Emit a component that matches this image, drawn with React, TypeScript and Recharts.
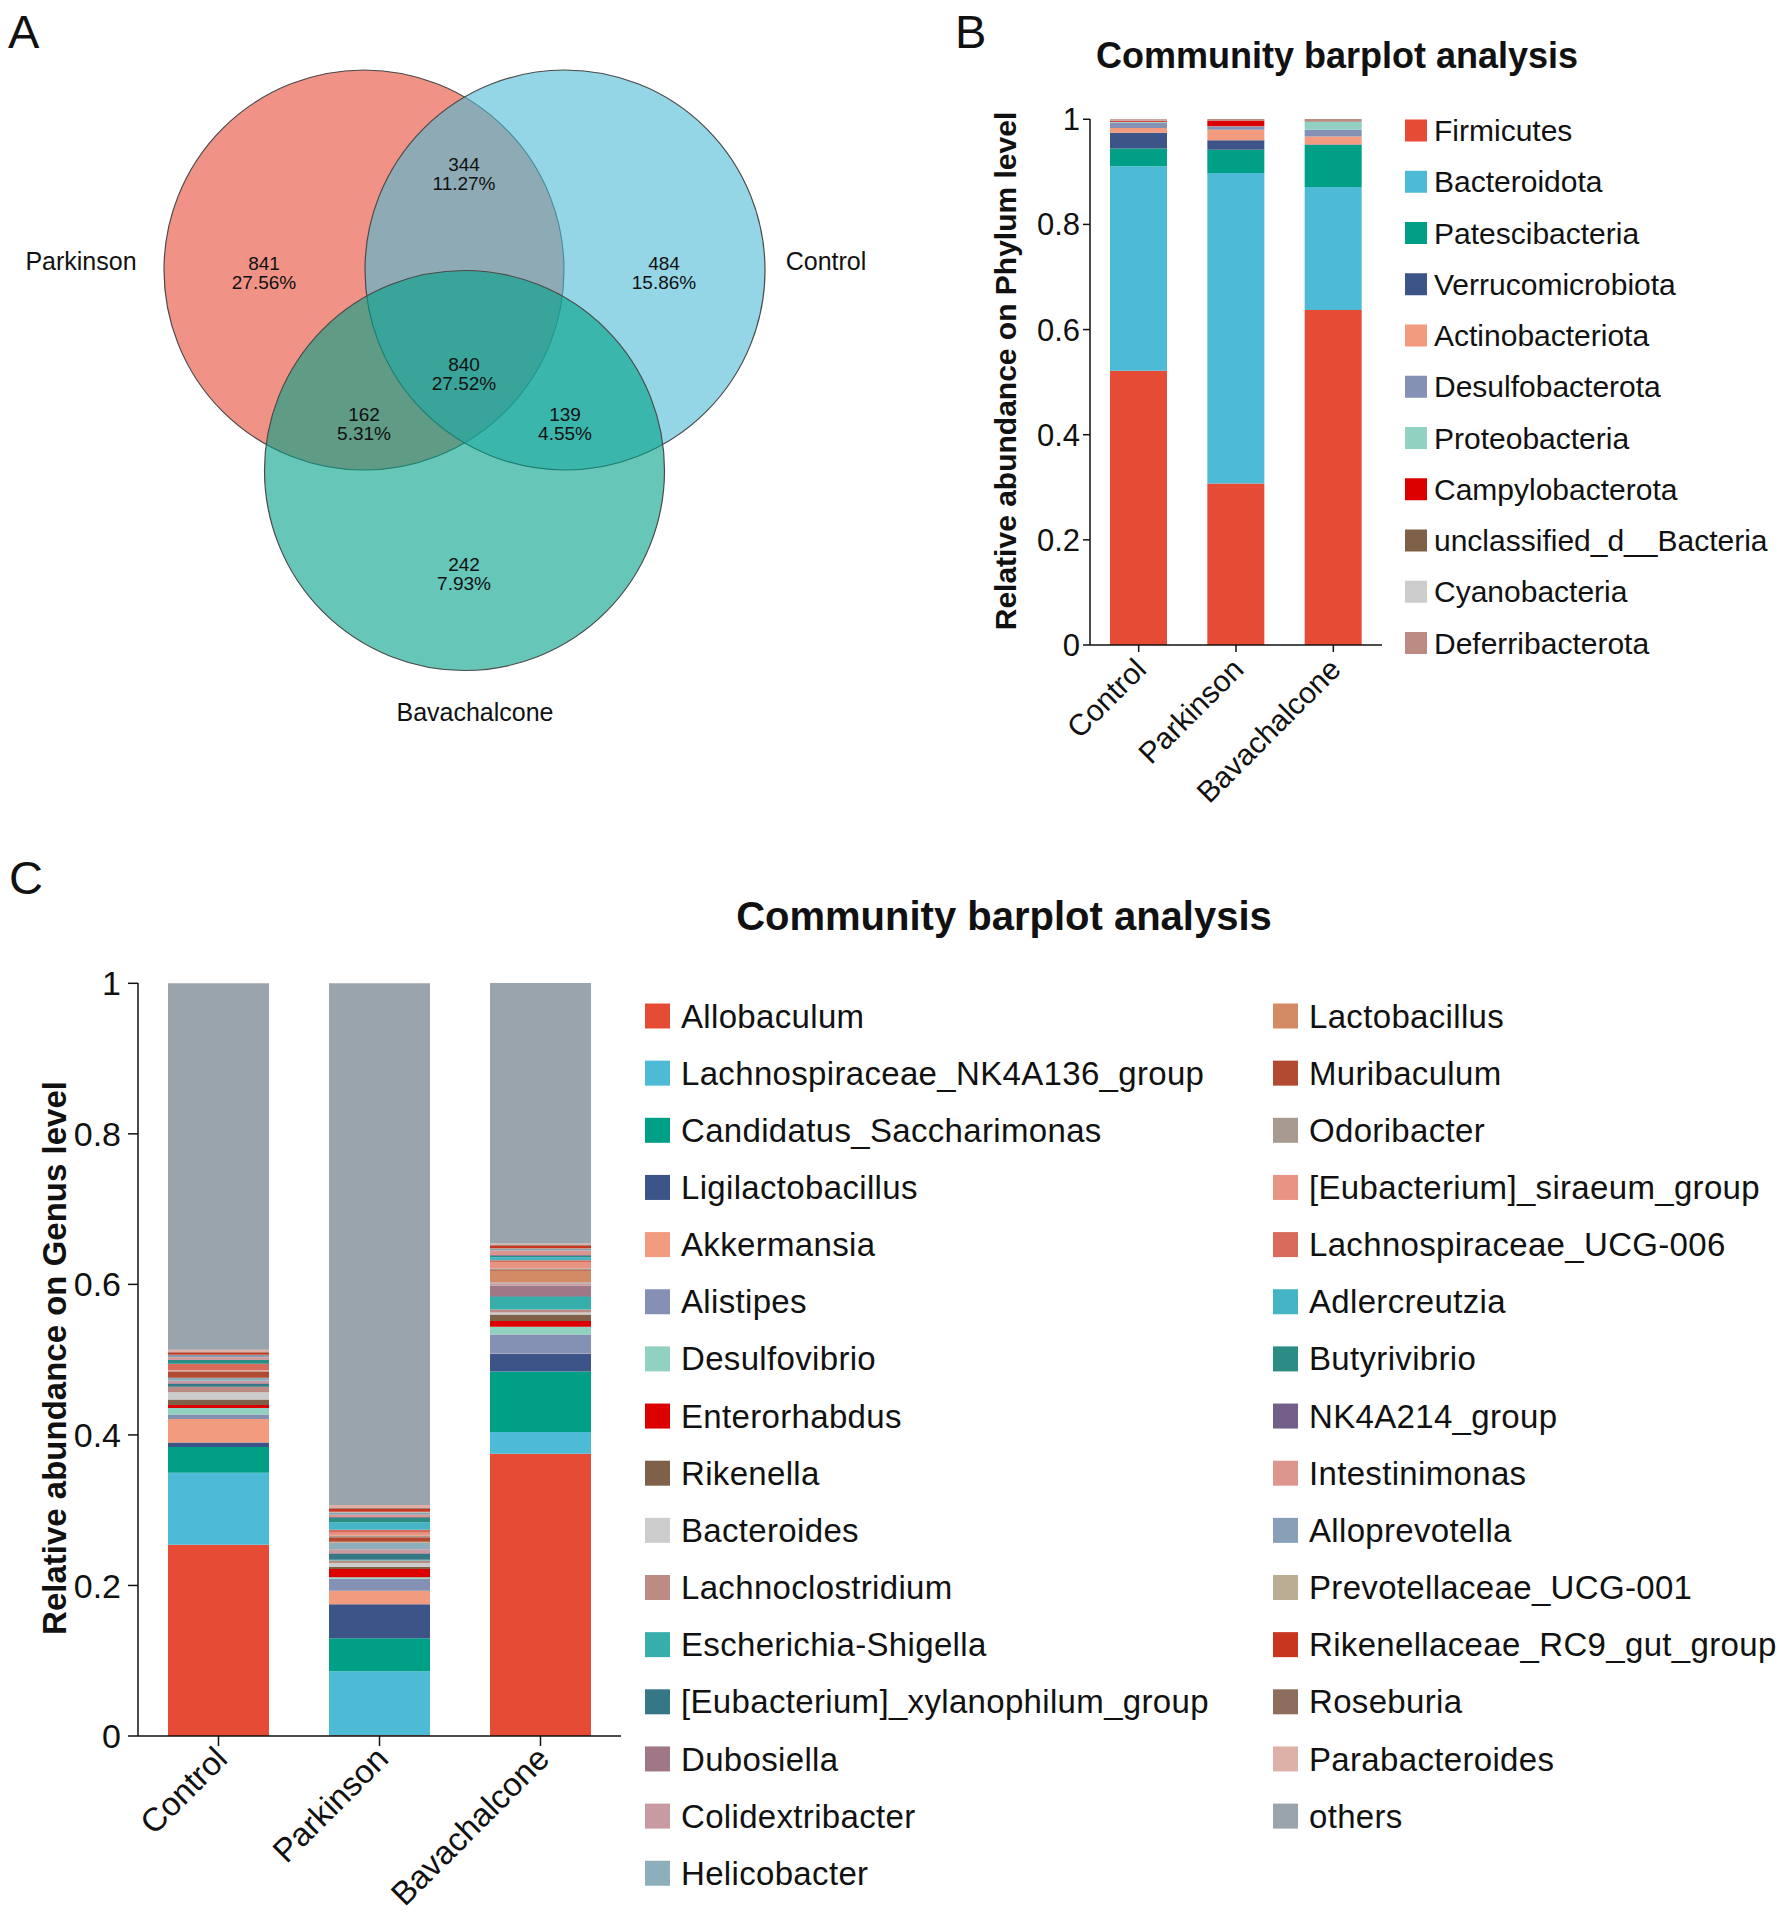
import React from 'react';
import { BarChart, Bar, XAxis, YAxis, ScatterChart, Scatter } from 'recharts';

const FONT = '"Liberation Sans", Arial, Helvetica, sans-serif';

// ---------------- Panel A : Venn ----------------
const vennSetNames = ['Parkinson', 'Control', 'Bavachalcone'];
const vennSetColors = ['#E64B35', '#4DBBD5', '#00A087'];
const vennCenterX = [364, 565, 464.5];
const vennCenterY = [270, 270, 470.5];
const vennRadius = [200, 200, 200];
const vennSetLabelX = [81, 826, 475];
const vennSetLabelY = [261.5, 261.5, 712];

const vennRegionCounts = [841, 344, 484, 840, 162, 139, 242];
const vennRegionPercents = ['27.56%', '11.27%', '15.86%', '27.52%', '5.31%', '4.55%', '7.93%'];
const vennRegionX = [264, 464, 664, 464, 364, 565, 464];
const vennRegionY = [273, 174, 273, 374, 424, 424, 574];

// ---------------- Shared ----------------
const samples = ['Control', 'Parkinson', 'Bavachalcone'];
const abundanceTicks = [0, 0.2, 0.4, 0.6, 0.8, 1];

// ---------------- Panel B : Phylum ----------------
const phylumNames = [
  'Firmicutes', 'Bacteroidota', 'Patescibacteria', 'Verrucomicrobiota', 'Actinobacteriota',
  'Desulfobacterota', 'Proteobacteria', 'Campylobacterota', 'unclassified_d__Bacteria',
  'Cyanobacteria', 'Deferribacterota',
];
const phylumColors = [
  '#E64B35', '#4DBBD5', '#00A087', '#3C5488', '#F39B7F',
  '#8491B4', '#91D1C2', '#DC0000', '#7E6148', '#CCCCCC', '#BC8B83',
];
const phylumControl = [0.5215, 0.389, 0.034, 0.030, 0.009, 0.010, 0.002, 0.001, 0.0005, 0.0005, 0.0025];
const phylumParkinson = [0.307, 0.591, 0.044, 0.018, 0.020, 0.006, 0.0005, 0.011, 0.0005, 0.0005, 0.002];
const phylumBavachalcone = [0.637, 0.234, 0.080, 0.001, 0.015, 0.013, 0.015, 0.0005, 0.0005, 0.0005, 0.004];

// ---------------- Panel C : Genus ----------------
const genusNames = [
  'Allobaculum', 'Lachnospiraceae_NK4A136_group', 'Candidatus_Saccharimonas', 'Ligilactobacillus',
  'Akkermansia', 'Alistipes', 'Desulfovibrio', 'Enterorhabdus', 'Rikenella', 'Bacteroides',
  'Lachnoclostridium', 'Escherichia-Shigella', '[Eubacterium]_xylanophilum_group', 'Dubosiella',
  'Colidextribacter', 'Helicobacter', 'Lactobacillus', 'Muribaculum', 'Odoribacter',
  '[Eubacterium]_siraeum_group', 'Lachnospiraceae_UCG-006', 'Adlercreutzia', 'Butyrivibrio',
  'NK4A214_group', 'Intestinimonas', 'Alloprevotella', 'Prevotellaceae_UCG-001',
  'Rikenellaceae_RC9_gut_group', 'Roseburia', 'Parabacteroides', 'others',
];
const genusColors = [
  '#E64B35', '#4DBBD5', '#00A087', '#3C5488', '#F39B7F', '#8491B4', '#91D1C2', '#DC0000',
  '#7E6148', '#CCCCCC', '#BC8B83', '#36AFAC', '#357785', '#A07787', '#C79BA1', '#8DAEBB',
  '#D38B65', '#B14A31', '#A89A8E', '#E99483', '#D96B5C', '#45B5C5', '#2A8C83', '#725E86',
  '#DD968D', '#87A0B8', '#BAAD93', '#C8361F', '#8D6E5E', '#DEB1A8', '#9AA4AC',
];
const genusControl = [
  0.254, 0.0956, 0.0345, 0.0058, 0.0314, 0.0058, 0.0088, 0.004, 0.007, 0.0097,
  0.007, 0.0005, 0.004, 0.001, 0.003, 0.0035, 0.0005, 0.008, 0.001, 0.001,
  0.008, 0.0005, 0.005, 0.0005, 0.003, 0.003, 0.0005, 0.003, 0.0005, 0.003, 0.487,
];
const genusParkinson = [
  0.001, 0.085, 0.044, 0.045, 0.018, 0.016, 0.002, 0.011, 0.003, 0.005,
  0.003, 0.001, 0.008, 0.001, 0.005, 0.009, 0.001, 0.006, 0.002, 0.004,
  0.004, 0.010, 0.006, 0.001, 0.003, 0.003, 0.001, 0.004, 0.001, 0.004, 0.693,
];
const genusBavachalcone = [
  0.375, 0.0288, 0.0805, 0.0235, 0.0005, 0.0252, 0.0102, 0.0075, 0.0088, 0.0027,
  0.004, 0.0164, 0.001, 0.014, 0.0035, 0.001, 0.0155, 0.001, 0.002, 0.0088,
  0.002, 0.004, 0.002, 0.001, 0.006, 0.002, 0.001, 0.0035, 0.001, 0.002, 0.346,
];

// ---------------- tables built from the arrays ----------------
const phylumValues = [phylumControl, phylumParkinson, phylumBavachalcone];
const genusValues = [genusControl, genusParkinson, genusBavachalcone];

const phylumTable = samples.map((s, i) => {
  const row: Record<string, any> = { name: s };
  phylumNames.forEach((_, j) => { row['p' + j] = phylumValues[i][j]; });
  return row;
});
const genusTable = samples.map((s, i) => {
  const row: Record<string, any> = { name: s };
  genusNames.forEach((_, j) => { row['g' + j] = genusValues[i][j]; });
  return row;
});

const vennCircles = vennSetNames.map((n, i) => ({
  name: n, x: vennCenterX[i], y: vennCenterY[i], r: vennRadius[i], fill: vennSetColors[i],
}));
const vennRegions = vennRegionCounts.map((c, i) => ({
  x: vennRegionX[i], y: vennRegionY[i], count: c, pct: vennRegionPercents[i],
}));
const vennSets = vennSetNames.map((n, i) => ({ x: vennSetLabelX[i], y: vennSetLabelY[i], name: n }));

const VENN_W = 900;
const VENN_H = 760;
const VENN_PX_PER_UNIT = VENN_W / 900;

const CircleShape = (props: any) => {
  const { cx, cy, payload } = props;
  return (
    <circle cx={cx} cy={cy} r={payload.r * VENN_PX_PER_UNIT} fill={payload.fill}
      fillOpacity={0.6} stroke="#4a4a4a" strokeWidth={1.2} />
  );
};
const RegionLabel = (props: any) => {
  const { cx, cy, payload } = props;
  return (
    <g>
      <text x={cx} y={cy - 9.5} dy="0.35em" textAnchor="middle" fontSize={19} fontFamily={FONT} fill="#111">{payload.count}</text>
      <text x={cx} y={cy + 9.5} dy="0.35em" textAnchor="middle" fontSize={19} fontFamily={FONT} fill="#111">{payload.pct}</text>
    </g>
  );
};
const SetLabel = (props: any) => {
  const { cx, cy, payload } = props;
  return (
    <text x={cx} y={cy} dy="0.35em" textAnchor="middle" fontSize={25} fontFamily={FONT} fill="#111">{payload.name}</text>
  );
};

const makeXTick = (fontSize: number, dx: number, dy: number) => (props: any) => {
  const { x, y, payload } = props;
  return (
    <g transform={`translate(${x + dx},${y + dy})`}>
      <text x={0} y={0} dy="0.72em" textAnchor="end" transform="rotate(-45)"
        fontSize={fontSize} fontFamily={FONT} fill="#111">{payload.value}</text>
    </g>
  );
};
const XTickB = makeXTick(30, -6, 2);
const XTickC = makeXTick(33, -6, -4);

const Legend = ({ names, colors, x, y0, step, box, textX, fontSize, spacing }: any) => (
  <g>
    {names.map((n: string, i: number) => (
      <g key={n}>
        <rect x={x} y={y0 + i * step - box / 2} width={box} height={box} fill={colors[i]} />
        <text x={textX} y={y0 + i * step} dy="0.35em" fontSize={fontSize} fontFamily={FONT}
          letterSpacing={spacing || 0} fill="#111">{n}</text>
      </g>
    ))}
  </g>
);

export default function App() {
  return (
    <div style={{ position: 'absolute', left: 0, top: 0, width: 1783, height: 1915, background: '#fff', overflow: 'hidden' }}>
      {/* Panel A */}
      <div style={{ position: 'absolute', left: 0, top: 0 }}>
        <ScatterChart width={VENN_W} height={VENN_H} margin={{ top: 0, right: 0, bottom: 0, left: 0 }}>
          <XAxis type="number" dataKey="x" domain={[0, 900]} hide height={0} />
          <YAxis type="number" dataKey="y" domain={[0, 760]} reversed hide width={0} />
          <Scatter data={vennCircles} shape={CircleShape} isAnimationActive={false} />
          <Scatter data={vennRegions} shape={RegionLabel} isAnimationActive={false} />
          <Scatter data={vennSets} shape={SetLabel} isAnimationActive={false} />
        </ScatterChart>
      </div>

      {/* Panel B */}
      <div style={{ position: 'absolute', left: 960, top: 0 }}>
        <BarChart width={430} height={860} data={phylumTable} margin={{ top: 119, right: 8, bottom: 0, left: 0 }}>
          <XAxis dataKey="name" height={215} interval={0} tick={XTickB} tickSize={7} tickMargin={2}
            stroke="#111" strokeWidth={1.5} />
          <YAxis width={130} domain={[0, 1]} ticks={abundanceTicks} tickSize={7} tickMargin={3}
            tick={{ fontSize: 31, fill: '#111', fontFamily: FONT }} stroke="#111" strokeWidth={1.5} />
          {phylumNames.map((n, j) => (
            <Bar key={n} name={n} dataKey={'p' + j} stackId="s" fill={phylumColors[j]} barSize={57} isAnimationActive={false} />
          ))}
        </BarChart>
      </div>

      {/* Panel C */}
      <div style={{ position: 'absolute', left: 0, top: 900 }}>
        <BarChart width={640} height={1015} data={genusTable} margin={{ top: 83, right: 19, bottom: 0, left: 0 }}>
          <XAxis dataKey="name" height={179} interval={0} tick={XTickC} tickSize={10} tickMargin={2}
            stroke="#111" strokeWidth={1.5} />
          <YAxis width={138} domain={[0, 1]} ticks={abundanceTicks} tickSize={10} tickMargin={7}
            tick={{ fontSize: 34, fill: '#111', fontFamily: FONT }} stroke="#111" strokeWidth={1.5} />
          {genusNames.map((n, j) => (
            <Bar key={n} name={n} dataKey={'g' + j} stackId="s" fill={genusColors[j]} barSize={101} isAnimationActive={false} />
          ))}
        </BarChart>
      </div>

      {/* Text overlay: panel letters, titles, axis titles, legends */}
      <svg width={1783} height={1915} style={{ position: 'absolute', left: 0, top: 0, pointerEvents: 'none' }}>
        <text x={8} y={48} fontSize={47} fontFamily={FONT} fill="#111">A</text>
        <text x={955} y={48} fontSize={47} fontFamily={FONT} fill="#111">B</text>
        <text x={9} y={894} fontSize={47} fontFamily={FONT} fill="#111">C</text>

        <text x={1337} y={55} dy="0.35em" textAnchor="middle" fontSize={36} fontWeight="bold" fontFamily={FONT} fill="#111">Community barplot analysis</text>
        <text x={1004} y={916} dy="0.35em" textAnchor="middle" fontSize={40} fontWeight="bold" fontFamily={FONT} fill="#111">Community barplot analysis</text>

        <text transform="translate(1005,371) rotate(-90)" dy="0.35em" textAnchor="middle" fontSize={30} fontWeight="bold" fontFamily={FONT} fill="#111">Relative abundance on Phylum level</text>
        <text transform="translate(54,1358) rotate(-90)" dy="0.35em" textAnchor="middle" fontSize={33} fontWeight="bold" fontFamily={FONT} fill="#111">Relative abundance on Genus level</text>

        <Legend names={phylumNames} colors={phylumColors} x={1405} y0={130.5} step={51.25} box={22} textX={1434} fontSize={30} />
        <Legend names={genusNames.slice(0, 16)} colors={genusColors.slice(0, 16)} x={645} y0={1016} step={57.15} box={25} textX={681} fontSize={33} spacing={0.33} />
        <Legend names={genusNames.slice(16)} colors={genusColors.slice(16)} x={1273} y0={1016} step={57.15} box={25} textX={1309} fontSize={33} spacing={0.33} />
      </svg>
    </div>
  );
}
